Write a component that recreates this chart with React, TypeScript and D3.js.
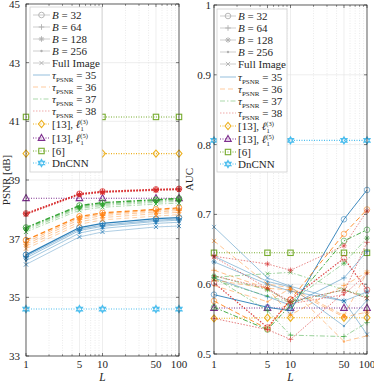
import React from "react";
import * as d3 from "d3";

const L_VALUES = [1, 5, 10, 50, 100];
const X_TICKS = [1, 5, 10, 50, 100];
const X_MINOR = [2, 3, 4, 6, 7, 8, 9, 20, 30, 40, 60, 70, 80, 90];
const PSNR_TICKS = [33, 35, 37, 39, 41, 43, 45];
const AUC_TICKS = [0.5, 0.6, 0.7, 0.8, 0.9, 1];
const B_NAMES = ["32", "64", "128", "256"];
const B_MARKERS = ["o", "+", "*", ".", "x"];
const TAU_NAMES = ["35", "36", "37", "38"];
const TAU_COLORS = ["#1f77b4", "#ff7f0e", "#2ca02c", "#d62728"];
const TAU_DASH = ["", "5,3", "5,2,1.5,2", "1.5,1.5"];

// PSNR rows: B=32, B=64, B=128, B=256, Full Image
const PSNR_TAU35 = [
  [36.45, 37.38, 37.52, 37.68, 37.72],
  [36.4, 37.33, 37.46, 37.63, 37.67],
  [36.34, 37.28, 37.42, 37.59, 37.63],
  [36.25, 37.19, 37.35, 37.52, 37.56],
  [36.12, 37.06, 37.23, 37.4, 37.43],
];
const PSNR_TAU36 = [
  [36.95, 37.76, 37.88, 38.0, 38.05],
  [36.88, 37.71, 37.84, 37.96, 38.01],
  [36.81, 37.65, 37.79, 37.91, 37.96],
  [36.74, 37.57, 37.72, 37.85, 37.9],
  [36.66, 37.49, 37.64, 37.77, 37.82],
];
const PSNR_TAU37 = [
  [37.38, 38.13, 38.23, 38.33, 38.37],
  [37.36, 38.1, 38.2, 38.31, 38.34],
  [37.33, 38.07, 38.17, 38.28, 38.31],
  [37.29, 38.03, 38.13, 38.24, 38.27],
  [37.23, 37.97, 38.07, 38.18, 38.21],
];
const PSNR_TAU38 = [
  [37.86, 38.53, 38.61, 38.68, 38.7],
  [37.85, 38.52, 38.6, 38.67, 38.69],
  [37.84, 38.51, 38.59, 38.66, 38.68],
  [37.83, 38.5, 38.58, 38.65, 38.67],
  [37.82, 38.49, 38.57, 38.64, 38.66],
];
const PSNR_REF13_L3 = [39.9, 39.9, 39.9, 39.9, 39.9];
const PSNR_REF13_L5 = [38.38, 38.38, 38.38, 38.38, 38.38];
const PSNR_REF6 = [41.15, 41.15, 41.15, 41.15, 41.15];
const PSNR_DNCNN = [34.6, 34.6, 34.6, 34.6, 34.6];

// AUC rows: B=32, B=64, B=128, B=256, Full Image
const AUC_TAU35 = [
  [0.585, 0.567, 0.562, 0.693, 0.735],
  [0.609, 0.582, 0.57, 0.609, 0.647],
  [0.632, 0.6, 0.59, 0.576, 0.589],
  [0.64, 0.604, 0.596, 0.54, 0.577],
  [0.682, 0.609, 0.597, 0.576, 0.528],
];
const AUC_TAU36 = [
  [0.576, 0.536, 0.578, 0.672, 0.707],
  [0.62, 0.594, 0.556, 0.598, 0.617],
  [0.606, 0.594, 0.592, 0.553, 0.56],
  [0.598, 0.575, 0.594, 0.518, 0.526],
  [0.662, 0.6, 0.595, 0.555, 0.617],
];
const AUC_TAU37 = [
  [0.567, 0.535, 0.57, 0.662, 0.678],
  [0.61, 0.562, 0.527, 0.525, 0.545],
  [0.612, 0.592, 0.575, 0.63, 0.666],
  [0.606, 0.583, 0.574, 0.592, 0.583],
  [0.61, 0.615, 0.617, 0.592, 0.58],
];
const AUC_TAU38 = [
  [0.602, 0.538, 0.578, 0.637, 0.592],
  [0.551, 0.535, 0.521, 0.588, 0.66],
  [0.64, 0.629, 0.62, 0.655, 0.705],
  [0.612, 0.594, 0.572, 0.585, 0.615],
  [0.639, 0.594, 0.575, 0.592, 0.58],
];
const AUC_REF13_L3 = [0.551, 0.552, 0.552, 0.552, 0.552];
const AUC_REF13_L5 = [0.566, 0.566, 0.566, 0.566, 0.566];
const AUC_REF6 = [0.645, 0.645, 0.645, 0.645, 0.645];
const AUC_DNCNN = [0.806, 0.806, 0.806, 0.806, 0.806];

const REF_COLORS = ["#EDB120", "#7E2F8E", "#77AC30", "#4DBEEE"];
const REF_MARKERS = ["d", "^", "s", "h"];

const FONT = "'Liberation Serif', 'DejaVu Serif', serif";
const TEXT = "#262626";

function Marker({ type, x, y, color, s = 3, opacity = 1 }: any) {
  const sw = 0.9;
  const common = { stroke: color, strokeWidth: sw, fill: "none", opacity };
  switch (type) {
    case "o":
      return <circle cx={x} cy={y} r={s} {...common} />;
    case "+":
      return <path d={`M${x - s},${y}H${x + s}M${x},${y - s}V${y + s}`} {...common} />;
    case "x": {
      const k = s * 0.75;
      return <path d={`M${x - k},${y - k}L${x + k},${y + k}M${x - k},${y + k}L${x + k},${y - k}`} {...common} />;
    }
    case "*": {
      const k = s * 0.72;
      return (
        <path
          d={`M${x - s},${y}H${x + s}M${x},${y - s}V${y + s}M${x - k},${y - k}L${x + k},${y + k}M${x - k},${y + k}L${x + k},${y - k}`}
          {...common}
        />
      );
    }
    case ".":
      return <circle cx={x} cy={y} r={1.2} fill={color} opacity={opacity} />;
    case "d":
      return <path d={`M${x},${y - s * 1.2}L${x + s},${y}L${x},${y + s * 1.2}L${x - s},${y}Z`} {...common} strokeWidth={1.1} />;
    case "^":
      return <path d={`M${x},${y - s * 1.2}L${x + s * 1.1},${y + s * 0.8}L${x - s * 1.1},${y + s * 0.8}Z`} {...common} strokeWidth={1.1} />;
    case "s":
      return <rect x={x - s * 0.9} y={y - s * 0.9} width={s * 1.8} height={s * 1.8} {...common} strokeWidth={1.1} />;
    case "h": {
      const r = s * 1.2;
      const tri = (off: number) =>
        [0, 1, 2]
          .map((i) => {
            const a = off + (i * 2 * Math.PI) / 3;
            return `${x + r * Math.sin(a)},${y - r * Math.cos(a)}`;
          })
          .join("L");
      return <path d={`M${tri(0)}ZM${tri(Math.PI)}Z`} {...common} strokeWidth={1.1} />;
    }
  }
  return null;
}

function Panel({ xs, ys, yTicks, tauData, refData, yFmt, yLabel, yLabelX, tickLabelX, bOpac, bWidth, mOpac }: any) {
  const [x0, x1] = xs.range();
  const [y0, y1] = ys.range();
  const line = (vals: number[]) =>
    d3
      .line<number>()
      .x((_, i) => xs(L_VALUES[i]))
      .y((v) => ys(v))(vals) as string;
  return (
    <g>
      {yTicks.map((t: number) => (
        <line key={"gy" + t} x1={x0} x2={x1} y1={ys(t)} y2={ys(t)} stroke="#e3e3e3" strokeWidth={0.6} />
      ))}
      {X_TICKS.map((t) => (
        <line key={"gx" + t} x1={xs(t)} x2={xs(t)} y1={y0} y2={y1} stroke="#e3e3e3" strokeWidth={0.6} />
      ))}
      {X_MINOR.map((t) => (
        <line key={"gm" + t} x1={xs(t)} x2={xs(t)} y1={y0} y2={y1} stroke="#d6d6d6" strokeWidth={0.5} strokeDasharray="1,1.5" />
      ))}
      {refData.map((vals: number[], k: number) => (
        <g key={"ref" + k}>
          <path d={line(vals)} fill="none" stroke={REF_COLORS[k]} strokeWidth={1.1} strokeDasharray="1,1.5" />
          {vals.map((v, i) => (
            <Marker key={i} type={REF_MARKERS[k]} x={xs(L_VALUES[i])} y={ys(v)} color={REF_COLORS[k]} s={3} />
          ))}
        </g>
      ))}
      {tauData.map((group: number[][], g: number) =>
        group.map((vals: number[], b: number) => (
          <g key={`t${g}-${b}`}>
            <path
              d={line(vals)}
              fill="none"
              stroke={TAU_COLORS[g]}
              strokeOpacity={bOpac[b]}
              strokeWidth={bWidth[b] + (g === 3 ? 0.2 : 0)}
              strokeDasharray={TAU_DASH[g]}
            />
            {vals.map((v, i) => (
              <Marker key={i} type={B_MARKERS[b]} x={xs(L_VALUES[i])} y={ys(v)} color={TAU_COLORS[g]} s={2.8} opacity={mOpac} />
            ))}
          </g>
        ))
      )}
      <rect x={x0} y={y1} width={x1 - x0} height={y0 - y1} fill="none" stroke="#262626" strokeWidth={0.7} />
      {yTicks.map((t: number) => (
        <g key={"ty" + t}>
          <line x1={x0} x2={x0 + 3} y1={ys(t)} y2={ys(t)} stroke="#262626" strokeWidth={0.6} />
          <line x1={x1} x2={x1 - 3} y1={ys(t)} y2={ys(t)} stroke="#262626" strokeWidth={0.6} />
          <text x={tickLabelX} y={ys(t) + 4} textAnchor="end" fontSize={11} fontFamily={FONT} fill={TEXT}>
            {yFmt(t)}
          </text>
        </g>
      ))}
      {X_TICKS.map((t) => (
        <g key={"tx" + t}>
          <line x1={xs(t)} x2={xs(t)} y1={y0} y2={y0 - 3} stroke="#262626" strokeWidth={0.6} />
          <line x1={xs(t)} x2={xs(t)} y1={y1} y2={y1 + 3} stroke="#262626" strokeWidth={0.6} />
          <text x={xs(t)} y={368} textAnchor="middle" fontSize={11} fontFamily={FONT} fill={TEXT}>
            {t}
          </text>
        </g>
      ))}
      {X_MINOR.map((t) => (
        <g key={"txm" + t}>
          <line x1={xs(t)} x2={xs(t)} y1={y0} y2={y0 - 1.8} stroke="#262626" strokeWidth={0.5} />
          <line x1={xs(t)} x2={xs(t)} y1={y1} y2={y1 + 1.8} stroke="#262626" strokeWidth={0.5} />
        </g>
      ))}
      <text x={(x0 + x1) / 2} y={381} textAnchor="middle" fontSize={11.5} fontStyle="italic" fontFamily={FONT} fill={TEXT}>
        L
      </text>
      <text
        transform={`translate(${yLabelX},${(y0 + y1) / 2}) rotate(-90)`}
        textAnchor="middle"
        fontSize={11}
        fontFamily={FONT}
        fill={TEXT}
      >
        {yLabel}
      </text>
    </g>
  );
}

function Legend({ bx, by, bw, bh, sx1, sx2, tx, rows }: any) {
  const fs = 11;
  const label = (k: number) => {
    if (k < 4)
      return (
        <>
          <tspan fontStyle="italic">B</tspan>
          <tspan>{" = " + B_NAMES[k]}</tspan>
        </>
      );
    if (k === 4) return <tspan>Full Image</tspan>;
    if (k < 9)
      return (
        <>
          <tspan fontStyle="italic">τ</tspan>
          <tspan fontSize={7} dy={2.5}>
            PSNR
          </tspan>
          <tspan dy={-2.5}>{" = " + TAU_NAMES[k - 5]}</tspan>
        </>
      );
    if (k === 9 || k === 10)
      return (
        <>
          <tspan>[13], </tspan>
          <tspan fontStyle="italic">ℓ</tspan>
          <tspan fontSize={6.5} dy={2.5}>
            1
          </tspan>
          <tspan fontSize={6.5} dx={-3.3} dy={-7}>
            {k === 9 ? "(3)" : "(5)"}
          </tspan>
        </>
      );
    if (k === 11) return <tspan>[6]</tspan>;
    return <tspan>DnCNN</tspan>;
  };
  const mid = (sx1 + sx2) / 2;
  return (
    <g>
      <rect x={bx} y={by} width={bw} height={bh} fill="#fff" stroke="#d0d0d0" strokeWidth={0.8} />
      {rows.map((ry: number, k: number) => (
        <g key={k}>
          {k < 5 && (
            <>
              <line x1={sx1} x2={sx2} y1={ry} y2={ry} stroke="#c0c0c0" strokeWidth={0.8} />
              <Marker type={B_MARKERS[k]} x={mid} y={ry} color="#b0b0b0" s={2.8} />
            </>
          )}
          {k >= 5 && k < 9 && (
            <line
              x1={sx1}
              x2={sx2}
              y1={ry}
              y2={ry}
              stroke={TAU_COLORS[k - 5]}
              strokeOpacity={0.4}
              strokeWidth={1.2}
              strokeDasharray={TAU_DASH[k - 5]}
            />
          )}
          {k >= 9 && (
            <>
              <line x1={sx1} x2={sx2} y1={ry} y2={ry} stroke={REF_COLORS[k - 9]} strokeWidth={1.1} strokeDasharray="1,1.5" />
              <Marker type={REF_MARKERS[k - 9]} x={mid} y={ry} color={REF_COLORS[k - 9]} s={3} />
            </>
          )}
          <text x={tx} y={ry + 4} fontSize={fs} fontFamily={FONT} fill={TEXT}>
            {label(k)}
          </text>
        </g>
      ))}
    </g>
  );
}

export default function App() {
  const xL = d3.scaleLog().domain([1, 100]).range([26, 179]);
  const yL = d3.scaleLinear().domain([33, 45]).range([356, 4]);
  const xR = d3.scaleLog().domain([1, 100]).range([214, 367]);
  const yR = d3.scaleLinear().domain([0.5, 1]).range([354, 5]);
  const rowsL = [15, 27, 39, 51, 63, 75, 87, 99, 111, 124, 138, 151, 163];
  const rowsR = [16, 28, 40, 52, 64, 77, 89, 101, 113, 126, 139, 152, 164];
  return (
    <svg width={374} height={382} style={{ position: "absolute", left: 0, top: 0, background: "#fff" }}>
      <Panel
        xs={xL}
        ys={yL}
        yTicks={PSNR_TICKS}
        tauData={[PSNR_TAU35, PSNR_TAU36, PSNR_TAU37, PSNR_TAU38]}
        refData={[PSNR_REF13_L3, PSNR_REF13_L5, PSNR_REF6, PSNR_DNCNN]}
        yFmt={(t: number) => String(t)}
        yLabel="PSNR [dB]"
        yLabelX={9.5}
        tickLabelX={20}
        bOpac={[0.95, 0.6, 0.55, 0.5, 0.45]}
        bWidth={[1.3, 0.8, 0.8, 0.8, 0.8]}
        mOpac={0.85}
      />
      <Panel
        xs={xR}
        ys={yR}
        yTicks={AUC_TICKS}
        tauData={[AUC_TAU35, AUC_TAU36, AUC_TAU37, AUC_TAU38]}
        refData={[AUC_REF13_L3, AUC_REF13_L5, AUC_REF6, AUC_DNCNN]}
        yFmt={(t: number) => (t === 1 ? "1" : t.toFixed(1))}
        yLabel="AUC"
        yLabelX={193}
        tickLabelX={211}
        bOpac={[0.85, 0.6, 0.55, 0.55, 0.55]}
        bWidth={[1.0, 0.8, 0.8, 0.8, 0.8]}
        mOpac={0.6}
      />
      <Legend bx={30} by={7} bw={72} bh={165} sx1={33} sx2={50} tx={52} rows={rowsL} />
      <Legend bx={217} by={9} bw={70} bh={163} sx1={220} sx2={236} tx={238} rows={rowsR} />
    </svg>
  );
}
